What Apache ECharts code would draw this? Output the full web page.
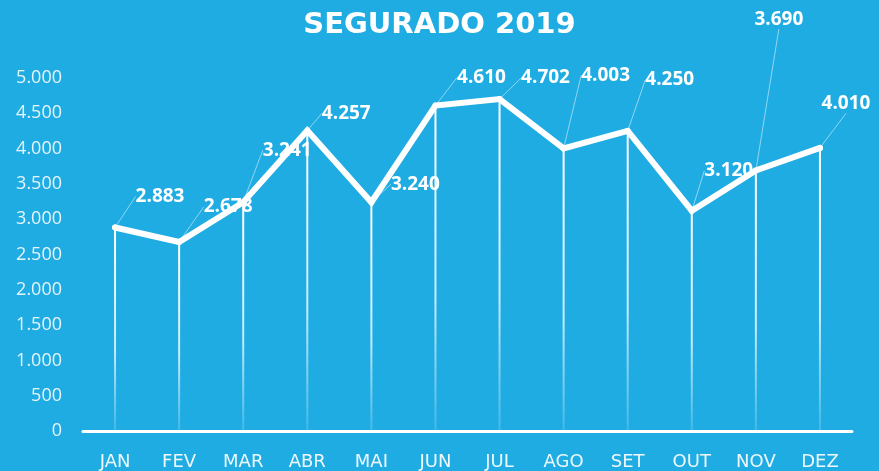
<!DOCTYPE html>
<html>
<head>
<meta charset="utf-8">
<script src="https://cdn.jsdelivr.net/npm/echarts@6/dist/echarts.min.js"></script>
<style>
  html, body { margin: 0; padding: 0; background: #1FACE3; }
  #chart { width: 879px; height: 471px; }
</style>
</head>
<body>
<div id="chart"></div>
<script>
const months = ['JAN', 'FEV', 'MAR', 'ABR', 'MAI', 'JUN', 'JUL', 'AGO', 'SET', 'OUT', 'NOV', 'DEZ'];
const segurado = [2883, 2678, 3241, 4257, 3240, 4610, 4702, 4003, 4250, 3120, 3690, 4010];
const yTicks = { min: 0, max: 5000, step: 500 };

// where each value label sits, relative to its point (like the Excel chart)
const labelOffsets = [
  [45, -31], [49, -35], [44, -52], [39, -17], [44, -18], [46, -28],
  [46, -21], [42, -73], [42, -51], [37, -40], [23, -151], [26, -44]
];

const fmt = v => String(v).replace(/\B(?=(\d{3})+(?!\d))/g, '.');

const chart = echarts.init(document.getElementById('chart'));
chart.setOption({
  backgroundColor: '#1FACE3',
  animation: false,
  title: {
    text: 'SEGURADO 2019',
    left: 'center',
    top: 6,
    textStyle: { color: '#fff', fontFamily: 'DejaVu Sans', fontWeight: 'bold', fontSize: 29 }
  },
  grid: { left: 83, right: 27, top: 78, bottom: 40 },
  xAxis: {
    type: 'category',
    data: months,
    axisTick: { show: false },
    axisLine: { lineStyle: { color: '#fff', width: 3 } },
    axisLabel: { color: '#eef8fd', fontFamily: 'DejaVu Sans', fontSize: 18, margin: 22 }
  },
  yAxis: {
    type: 'value',
    min: yTicks.min,
    max: yTicks.max,
    interval: yTicks.step,
    splitLine: { show: false },
    axisLine: { show: false },
    axisTick: { show: false },
    axisLabel: { color: '#e6f4fb', fontFamily: 'Open Sans', fontSize: 18, margin: 21, formatter: fmt }
  },
  series: [
    {
      type: 'bar',
      data: segurado,
      barWidth: 2,
      silent: true,
      itemStyle: {
        color: new echarts.graphic.LinearGradient(0, 0, 0, 1, [
          { offset: 0, color: 'rgba(255,255,255,1)' },
          { offset: 0.6, color: 'rgba(255,255,255,0.75)' },
          { offset: 1, color: 'rgba(255,255,255,0.15)' }
        ])
      },
      z: 1
    },
    {
      type: 'line',
      data: segurado,
      symbol: 'circle',
      symbolSize: 6,
      itemStyle: { color: '#fff' },
      lineStyle: { color: '#fff', width: 6, cap: 'round', join: 'miter' },
      label: {
        show: true,
        position: 'inside',
        color: '#fff',
        fontFamily: 'Open Sans',
        fontWeight: 'bold',
        fontSize: 19,
        formatter: p => fmt(p.value)
      },
      labelLine: { show: true, lineStyle: { color: 'rgba(255,255,255,0.5)', width: 1 } },
      labelLayout: p => ({ dx: labelOffsets[p.dataIndex][0], dy: labelOffsets[p.dataIndex][1] }),
      z: 3
    }
  ]
});
</script>
</body>
</html>
